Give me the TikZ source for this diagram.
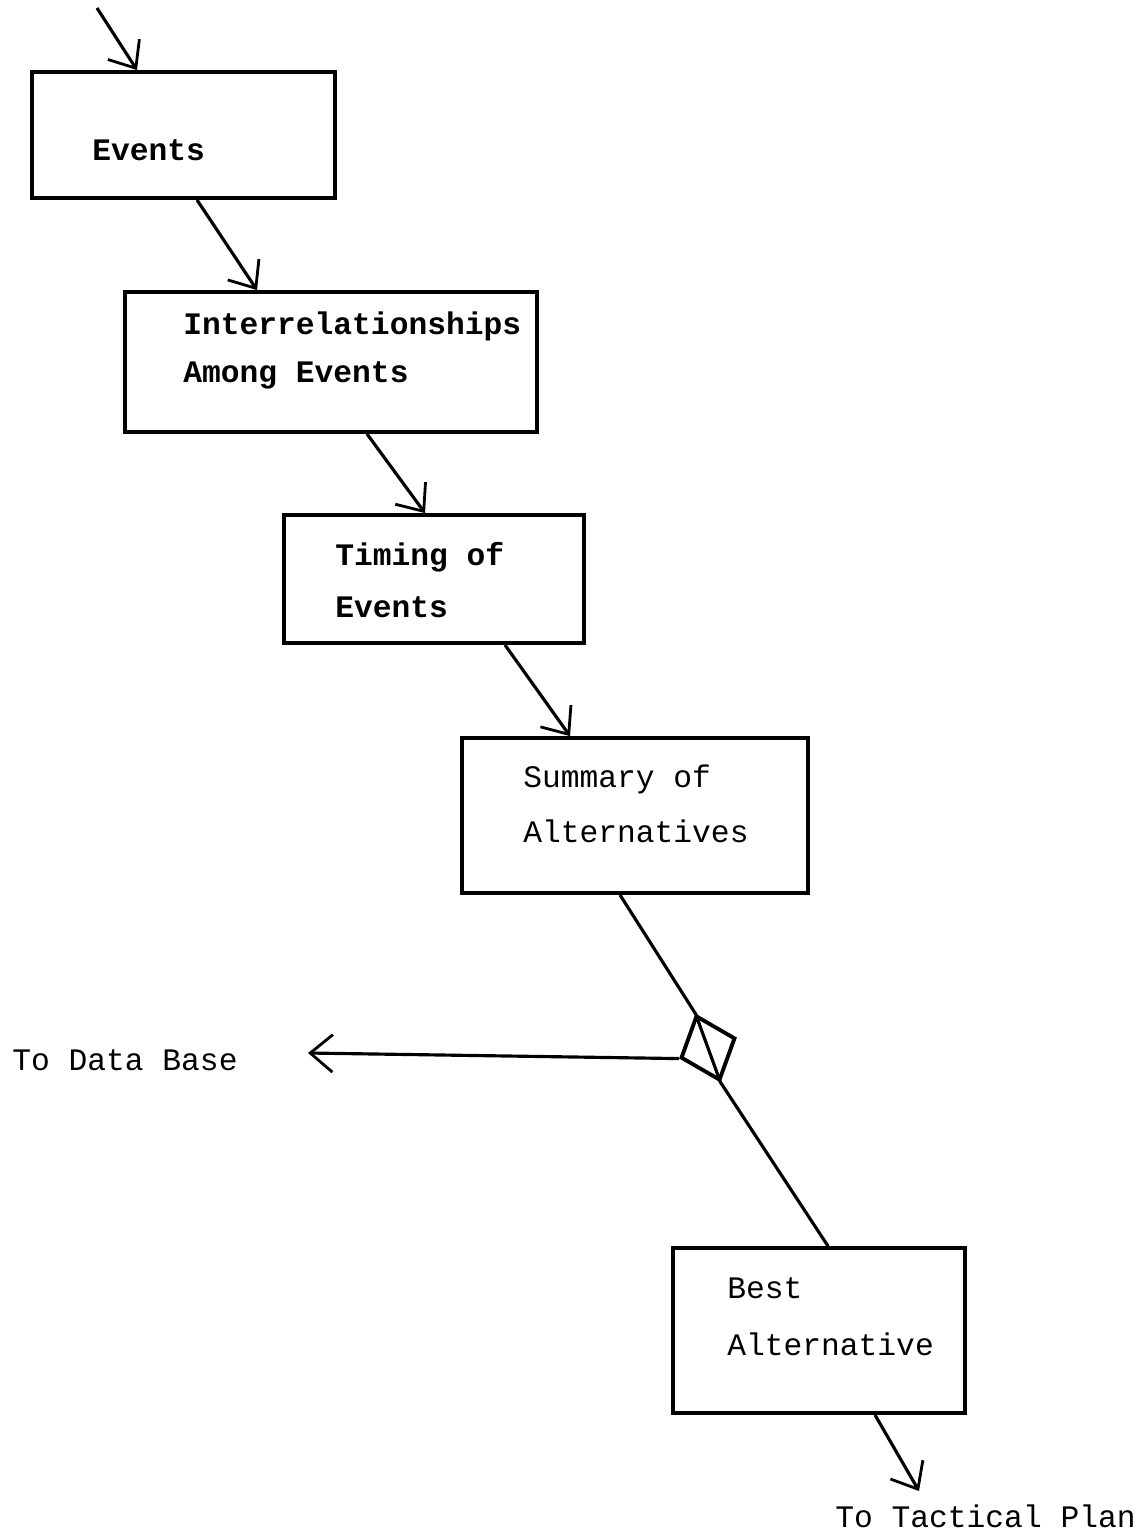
\documentclass[tikz,border=0pt]{standalone}
\usepackage{fontspec}
\setmonofont{Liberation Mono}
\usepackage{tikz}
\usetikzlibrary{shapes.geometric, arrows.meta, positioning}
\tikzstyle{stepbox} = [rectangle, draw=black, line width=2.2pt, inner sep=0pt]
\tikzstyle{choicebox} = [diamond, draw=black, line width=2.2pt, inner sep=0pt, minimum width=1.16cm, minimum height=1.38cm]
\tikzstyle{boxtext} = [anchor=base west, align=left, inner sep=0pt, font=\ttfamily\bfseries\fontsize{17.8pt}{27.3pt}\selectfont]
\tikzstyle{plaintext} = [anchor=base west, align=left, inner sep=0pt, font=\ttfamily\fontsize{17.8pt}{27.3pt}\selectfont]
\tikzstyle{arrow} = [line width=1.8pt, -{Straight Barb[length=4.5mm, width=7.5mm, line width=1.6pt]}]
\tikzstyle{link} = [line width=1.8pt]

\begin{document}
\begin{tikzpicture}[x=0.02cm, y=-0.02cm]
\useasboundingbox (0,0) rectangle (1140,1532);

% boxes
\node[stepbox, minimum width=6.06cm, minimum height=2.52cm] (events) at (183.5,135) {};
\node[stepbox, minimum width=8.24cm, minimum height=2.80cm] (interrel) at (331,362) {};
\node[stepbox, minimum width=6.00cm, minimum height=2.56cm] (timing) at (434,579) {};
\node[stepbox, minimum width=6.92cm, minimum height=3.10cm] (summary) at (635,815.5) {};
\node[stepbox, minimum width=5.84cm, minimum height=3.30cm] (best) at (819,1330.5) {};
\node[choicebox, rotate=20] (choice) at (708,1048) {};

% texts (anchored at the baseline of the last line)
\node[boxtext] (eventstext) at (92,160) {Events};
\node[boxtext] (interreltext) at (183,382) {Interrelationships\\Among Events};
\node[boxtext] (timingtext) at (335,617) {Timing of\\[2.3pt]Events};
\node[plaintext] (summarytext) at (523,842) {Summary of\\[4pt]Alternatives};
\node[plaintext] (besttext) at (727,1355) {Best\\[5.1pt]Alternative};
\node[plaintext] (database) at (12,1070) {To Data Base};
\node[plaintext] (tactical) at (835,1527) {To Tactical Plan};

\coordinate (start) at (97,8);
\coordinate (dbtip) at (308,1053);
\coordinate (tacttip) at (919,1491);

% connectors
\draw[arrow] (start) -- ([xshift=-0.93cm]events.north);
\draw[arrow] ([xshift=0.27cm]events.south) -- ([xshift=-1.48cm]interrel.north);
\draw[arrow] ([xshift=0.72cm]interrel.south) -- ([xshift=-0.18cm]timing.north);
\draw[arrow] ([xshift=1.42cm]timing.south) -- ([xshift=-1.30cm]summary.north);
\draw[link] ([xshift=-0.30cm]summary.south) -- (choice.north) -- (choice.south) -- ([xshift=0.18cm]best.north);
\draw[arrow] (choice.west) -- (dbtip);
\draw[arrow] ([xshift=1.12cm]best.south) -- (tacttip);
\end{tikzpicture}
\end{document}
